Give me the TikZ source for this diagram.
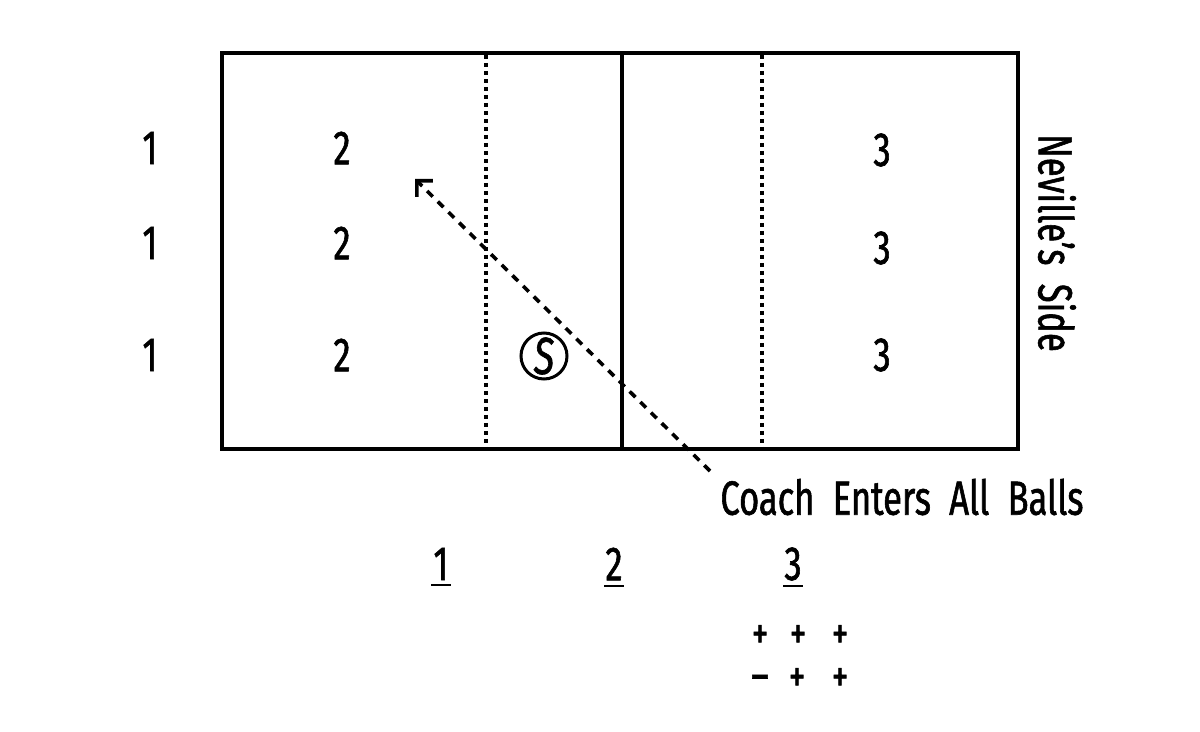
\documentclass[tikz,border=0pt]{standalone}
\usepackage{fontspec}
\setmainfont{Fira Sans}[FakeStretch=0.72, FakeBold=1.2, AutoFakeBold=1.2]
\usetikzlibrary{arrows.meta}
\tikzset{
  lbl/.style={inner sep=0pt, font=\fontsize{24}{28}\selectfont\bfseries},
  pm/.style={inner sep=0pt, font=\fontsize{23}{26}\selectfont\bfseries},
  courtline/.style={line width=2pt},
  dotline/.style={line width=2pt, dash pattern=on 2pt off 2pt},
  coachpath/.style={line width=1.8pt, dash pattern=on 4pt off 3.5pt, -{Straight Barb[angle=90:8pt, line width=1.8pt]}},
  uline/.style={line width=1pt},
}
\begin{document}
\begin{tikzpicture}[x=0.5pt,y=-0.5pt]
\useasboundingbox (0,0) rectangle (1200,732);
% court
\draw[courtline] (222,53) rectangle (1018,449);
\draw[courtline] (622,53) -- (622,449);
\draw[dotline] (486,55) -- (486,449);
\draw[dotline] (762,55) -- (762,449);
% row labels
\node[lbl] (a1) at (150,148) {1};
\node[lbl] (a2) at (150,243) {1};
\node[lbl] (a3) at (150,355) {1};
\node[lbl] (b1) at (342,148) {2};
\node[lbl] (b2) at (342,243) {2};
\node[lbl] (b3) at (342,355) {2};
\node[lbl] (c1) at (882,150) {3};
\node[lbl] (c2) at (882,248) {3};
\node[lbl] (c3) at (882,355) {3};
% setter
\node[draw, circle, line width=1.5pt, minimum size=23pt, inner sep=0pt, font=\fontsize{26}{28}\selectfont\itshape] (s) at (544,356) {S};
% coach
\coordinate (cstart) at (710,471);
\coordinate (cend) at (415,179);
\draw[coachpath] (cstart) -- (cend);
\node[lbl, anchor=west] (coach) at (720,497) {Coach\ \ Enters\ \ All\ \ Balls};
% side label
\node[lbl, rotate=-90] (side) at (1057,243) {Neville’s\ \ Side};
% underlined numbers
\node[lbl] (u1) at (441,564) {1};
\node[lbl] (u2) at (614,564) {2};
\node[lbl] (u3) at (793,564) {3};
\draw[uline] ([xshift=-5pt,yshift=-2.5pt]u1.south) -- ([xshift=5pt,yshift=-2.5pt]u1.south);
\draw[uline] ([xshift=-5pt,yshift=-2.5pt]u2.south) -- ([xshift=5pt,yshift=-2.5pt]u2.south);
\draw[uline] ([xshift=-5pt,yshift=-2.5pt]u3.south) -- ([xshift=5pt,yshift=-2.5pt]u3.south);
% plus/minus
\node[pm] (p1) at (760,637) {+};
\node[pm] (p2) at (798,637) {+};
\node[pm] (p3) at (840,637) {+};
\node[pm] (m1) at (760,683) {–};
\node[pm] (p4) at (797,680) {+};
\node[pm] (p5) at (840,680) {+};
\end{tikzpicture}
\end{document}
